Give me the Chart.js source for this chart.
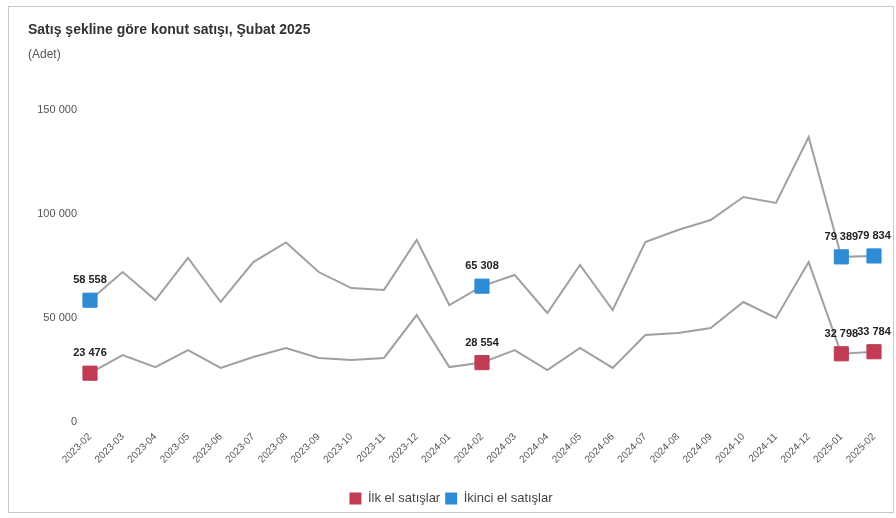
<!DOCTYPE html>
<html lang="tr">
<head>
<meta charset="utf-8">
<title>Satış şekline göre konut satışı</title>
<script src="https://cdn.jsdelivr.net/npm/chart.js@4.4.1/dist/chart.umd.min.js"></script>
<style>
  html, body { margin: 0; padding: 0; background: #fff; }
  #wrap { position: relative; width: 896px; height: 518px; }
  #frame { position: absolute; left: 8px; top: 6px; width: 884px; height: 505px; border: 1px solid #c8c8c8; pointer-events: none; }
</style>
</head>
<body>
<div id="wrap">
  <canvas id="chart" width="896" height="518"></canvas>
  <div id="frame"></div>
</div>
<script>
const months = [
  "2023-02", "2023-03", "2023-04", "2023-05", "2023-06", "2023-07", "2023-08",
  "2023-09", "2023-10", "2023-11", "2023-12", "2024-01", "2024-02", "2024-03",
  "2024-04", "2024-05", "2024-06", "2024-07", "2024-08", "2024-09", "2024-10",
  "2024-11", "2024-12", "2025-01", "2025-02"
];

// first-hand sales
const ilkEl = [
  23476, 32200, 26400, 34600, 26000, 31250, 35600, 30800, 29800, 30800, 51400,
  26400, 28554, 34600, 25000, 35600, 26000, 41800, 42800, 45200, 57700, 50000,
  76900, 32798, 33784
];

// second-hand sales
const ikinciEl = [
  58558, 72100, 58650, 78850, 57700, 76900, 86300, 72100, 64400, 63500, 87500,
  56250, 65308, 70700, 52400, 75500, 53850, 86500, 92300, 97100, 108200, 105300,
  137000, 79389, 79834
];

const yTicks = [0, 50000, 100000, 150000];

// months that get a marker and a value label
const highlighted = [0, 12, 23, 24];

const RED = "#c13b55";
const BLUE = "#2e8bd6";
const LINE = "#a0a0a0";

function fmt(v) {
  return String(v).replace(/\B(?=(\d{3})+(?!\d))/g, " ");
}

const valueLabels = {
  id: "valueLabels",
  afterDatasetsDraw(chart) {
    const ctx = chart.ctx;
    ctx.save();
    ctx.font = "bold 11px 'Liberation Sans', Arial, sans-serif";
    ctx.fillStyle = "#222";
    ctx.textAlign = "center";
    ctx.textBaseline = "middle";
    chart.data.datasets.forEach((ds, di) => {
      const meta = chart.getDatasetMeta(di);
      highlighted.forEach(i => {
        const pt = meta.data[i];
        ctx.fillText(fmt(ds.data[i]), pt.x, pt.y - 20);
      });
    });
    ctx.restore();
  }
};

function series(label, values, color) {
  return {
    label: label,
    data: values,
    borderColor: LINE,
    backgroundColor: color,
    borderWidth: 2,
    tension: 0,
    fill: false,
    clip: false,
    pointStyle: "rect",
    pointRadius: c => highlighted.includes(c.dataIndex) ? 10 : 0,
    pointHoverRadius: c => highlighted.includes(c.dataIndex) ? 10 : 0,
    pointBackgroundColor: color,
    pointBorderColor: color,
    pointBorderWidth: 1
  };
}

const font = "'Liberation Sans', Arial, sans-serif";

new Chart(document.getElementById("chart"), {
  type: "line",
  data: {
    labels: months,
    datasets: [
      series("İlk el satışlar", ilkEl, RED),
      series("İkinci el satışlar", ikinciEl, BLUE)
    ]
  },
  options: {
    responsive: false,
    animation: false,
    layout: { padding: { left: 28, right: 22, top: 18, bottom: 3 } },
    scales: {
      x: {
        grid: { display: false, drawTicks: false },
        border: { display: false },
        ticks: {
          minRotation: 45,
          maxRotation: 45,
          autoSkip: false,
          padding: 9,
          color: "#555",
          font: { family: font, size: 10 }
        },
        afterFit: s => { s.height = 65; }
      },
      y: {
        min: 0,
        max: 150000,
        grid: { display: false, drawTicks: false },
        border: { display: false },
        afterBuildTicks: s => { s.ticks = yTicks.map(v => ({ value: v })); },
        ticks: {
          padding: 13,
          color: "#555",
          font: { family: font, size: 11 },
          callback: v => fmt(v)
        },
        afterFit: s => { s.width = 62; }
      }
    },
    plugins: {
      title: {
        display: true,
        text: "Satış şekline göre konut satışı, Şubat 2025",
        align: "start",
        color: "#333",
        font: { family: font, size: 14, weight: "bold" },
        padding: { top: 4, bottom: 9 }
      },
      subtitle: {
        display: true,
        text: "(Adet)",
        align: "start",
        color: "#555",
        font: { family: font, size: 12 },
        padding: { top: 0, bottom: 47.8 }
      },
      legend: {
        position: "bottom",
        labels: {
          boxWidth: 12,
          boxHeight: 12,
          padding: 5,
          color: "#444",
          font: { family: font, size: 13 },
          generateLabels: chart => chart.data.datasets.map((ds, i) => ({
            text: ds.label,
            fillStyle: ds.backgroundColor,
            strokeStyle: ds.backgroundColor,
            lineWidth: 0,
            fontColor: "#444",
            datasetIndex: i,
            hidden: false
          }))
        }
      },
      tooltip: { enabled: false }
    }
  },
  plugins: [valueLabels]
});
</script>
</body>
</html>
